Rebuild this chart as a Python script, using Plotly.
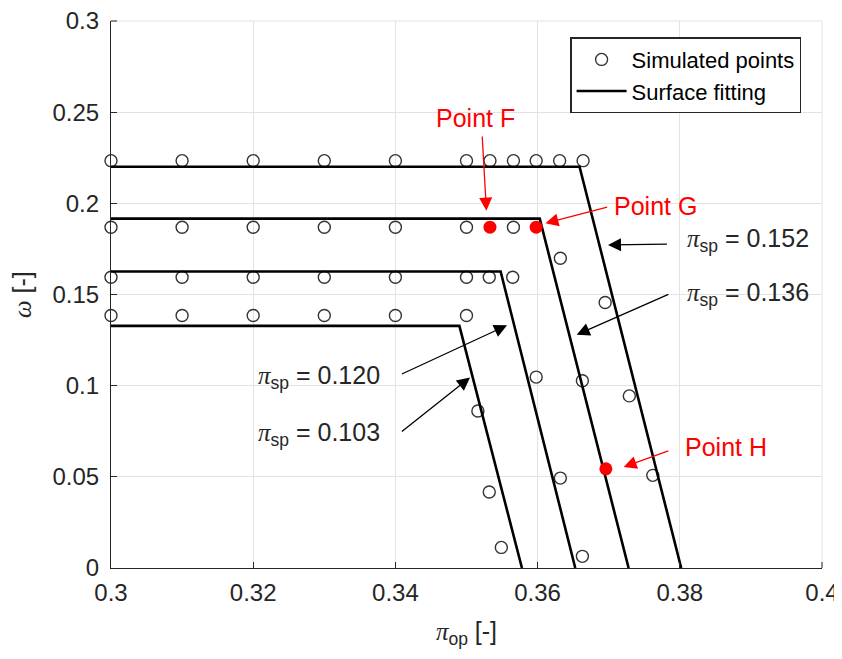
import plotly.graph_objects as go

# ---------------- data ----------------
# simulated points (open circles), per pi_sp level
sim_152_x = [0.30, 0.31, 0.32, 0.33, 0.34, 0.35, 0.3533, 0.3566, 0.3598, 0.3631, 0.3664, 0.3695, 0.3729, 0.3762]
sim_152_y = [0.2234, 0.2234, 0.2234, 0.2234, 0.2234, 0.2234, 0.2234, 0.2234, 0.2234, 0.2234, 0.2234, 0.1456, 0.0944, 0.0508]

sim_136_x = [0.30, 0.31, 0.32, 0.33, 0.34, 0.35, 0.3566, 0.3632, 0.3663, 0.3663]
sim_136_y = [0.1869, 0.1869, 0.1869, 0.1869, 0.1869, 0.1869, 0.1869, 0.1699, 0.1027, 0.0064]

sim_120_x = [0.30, 0.31, 0.32, 0.33, 0.34, 0.35, 0.3532, 0.3565, 0.3598, 0.3632]
sim_120_y = [0.1595, 0.1595, 0.1595, 0.1595, 0.1595, 0.1595, 0.1595, 0.1595, 0.1047, 0.0493]

sim_103_x = [0.30, 0.31, 0.32, 0.33, 0.34, 0.35, 0.3516, 0.3532, 0.3549]
sim_103_y = [0.1385, 0.1385, 0.1385, 0.1385, 0.1385, 0.1385, 0.0861, 0.0417, 0.0113]

# highlighted points F, G, H
special_names = ["Point F", "Point G", "Point H"]
special_x = [0.3533, 0.3598, 0.3696]
special_y = [0.1869, 0.1869, 0.0544]

# surface fitting lines
fit_152_x = [0.30, 0.3659, 0.3802]
fit_152_y = [0.2201, 0.2201, 0.0]
fit_136_x = [0.30, 0.3603, 0.3728]
fit_136_y = [0.1916, 0.1916, 0.0]
fit_120_x = [0.30, 0.3548, 0.3653]
fit_120_y = [0.1626, 0.1626, 0.0]
fit_103_x = [0.30, 0.3490, 0.3578]
fit_103_y = [0.1328, 0.1328, 0.0]

pi_sp_labels = ["0.152", "0.136", "0.120", "0.103"]

x_ticks = [0.30, 0.32, 0.34, 0.36, 0.38, 0.40]
x_tick_text = ["0.3", "0.32", "0.34", "0.36", "0.38", "0.4"]
y_ticks = [0, 0.05, 0.10, 0.15, 0.20, 0.25, 0.30]
y_tick_text = ["0", "0.05", "0.1", "0.15", "0.2", "0.25", "0.3"]

# ---------------- figure ----------------
FONT = "Liberation Sans, Arial, Helvetica, sans-serif"
TXT = "#262626"
GRID = "#e3e3e3"
SERIF = "font-family:'Liberation Serif','DejaVu Serif',serif"

fig = go.Figure()

fits = [(fit_152_x, fit_152_y), (fit_136_x, fit_136_y), (fit_120_x, fit_120_y), (fit_103_x, fit_103_y)]
sims = [(sim_152_x, sim_152_y), (sim_136_x, sim_136_y), (sim_120_x, sim_120_y), (sim_103_x, sim_103_y)]

for i, (sx, sy) in enumerate(sims):
    fig.add_trace(go.Scatter(
        x=sx, y=sy, mode="markers", name="Simulated points",
        legendgroup="sim", showlegend=(i == 0),
        marker=dict(symbol="circle-open", size=12, color="#333333", line=dict(width=1.4, color="#333333")),
        cliponaxis=False,
    ))

for i, (fx, fy) in enumerate(fits):
    fig.add_trace(go.Scatter(
        x=fx, y=fy, mode="lines", name="Surface fitting",
        legendgroup="fit", showlegend=(i == 0),
        line=dict(color="black", width=2.6),
    ))

fig.add_trace(go.Scatter(
    x=special_x, y=special_y, mode="markers", showlegend=False,
    marker=dict(symbol="circle", size=13, color="#ff0000"),
))

# text labels
anns = []
def txt(text, x, y, color, size):
    anns.append(dict(text=text, x=x, y=y, xref="x", yref="y", showarrow=False,
                     font=dict(family=FONT, size=size, color=color), xanchor="center", yanchor="middle"))

def arrow(x0, y0, x1, y1, color):
    anns.append(dict(text="", x=x1, y=y1, ax=x0, ay=y0, xref="x", yref="y", axref="x", ayref="y",
                     showarrow=True, arrowhead=2, arrowsize=2.0, arrowwidth=1.3, arrowcolor=color))

# Point labels (positions in data units)
txt(special_names[0], 0.3513, 0.2468, "#ff0000", 25)
txt(special_names[1], 0.3766, 0.1985, "#ff0000", 25)
txt(special_names[2], 0.3865, 0.0663, "#ff0000", 25)
arrow(0.3522, 0.2375, 0.3528, 0.1960, "#ff0000")
arrow(0.3700, 0.1982, 0.3611, 0.1891, "#ff0000")
arrow(0.3786, 0.0645, 0.3721, 0.0554, "#ff0000")

def pisp(v):
    return f"<span style=\"{SERIF}\"><i>π</i></span><sub>sp</sub> = {v}"

txt(pisp(pi_sp_labels[0]), 0.3896, 0.1800, TXT, 25)
txt(pisp(pi_sp_labels[1]), 0.3896, 0.1505, TXT, 25)
txt(pisp(pi_sp_labels[2]), 0.3293, 0.1050, TXT, 25)
txt(pisp(pi_sp_labels[3]), 0.3293, 0.0735, TXT, 25)
arrow(0.3784, 0.1776, 0.3699, 0.1772, "black")
arrow(0.3786, 0.1504, 0.3655, 0.1279, "black")
arrow(0.3407, 0.1060, 0.3557, 0.1331, "black")
arrow(0.3407, 0.0742, 0.3505, 0.1045, "black")

# y-axis title (rotated), placed left of tick labels
anns.append(dict(text=f"<span style=\"{SERIF}\"><i>ω</i></span> [-]", textangle=-90,
                 xref="paper", yref="paper", x=-0.1248, y=0.4994, xanchor="center", yanchor="middle",
                 showarrow=False, font=dict(family=FONT, size=25, color=TXT)))

# grid lines / inside ticks at the range ends (plotly drops those at the plot edges)
shapes = [
    dict(type="line", xref="paper", yref="paper", x0=0, x1=1, y0=1, y1=1,
         line=dict(color=GRID, width=1), layer="below"),
    dict(type="line", xref="paper", yref="paper", x0=1, x1=1, y0=0, y1=1,
         line=dict(color=GRID, width=1), layer="below"),
    dict(type="line", xref="paper", yref="paper", x0=0, x1=6 / 711, y0=1, y1=1,
         line=dict(color=TXT, width=1)),
    dict(type="line", xref="paper", yref="paper", x0=1, x1=1, y0=0, y1=6 / 547,
         line=dict(color=TXT, width=1)),
]

axis_common = dict(
    showgrid=True, gridcolor=GRID, gridwidth=1,
    showline=True, linecolor=TXT, linewidth=1.2,
    ticks="inside", ticklen=6, tickcolor=TXT, tickwidth=1,
    tickfont=dict(family=FONT, size=24, color=TXT),
    zeroline=False, mirror=False, automargin=False,
    ticklabeloverflow="allow",
)

# page body has an 8px margin: figure 834x651 placed at (8,8)
fig.update_layout(
    width=834, height=651,
    margin=dict(l=103, r=20, t=13, b=91),
    plot_bgcolor="white", paper_bgcolor="white",
    font=dict(family=FONT, color=TXT),
    xaxis=dict(range=[0.3, 0.4], tickvals=x_ticks, ticktext=x_tick_text,
               ticklabelstandoff=3,
               title=dict(text=f"<span style=\"{SERIF}\"><i>π</i></span><sub>op</sub> [-]",
                          font=dict(family=FONT, size=25, color=TXT), standoff=17),
               **axis_common),
    yaxis=dict(range=[0, 0.3], tickvals=y_ticks, ticktext=y_tick_text,
               ticklabelstandoff=6,
               **axis_common),
    legend=dict(x=0.971, y=0.970, xanchor="right", yanchor="top",
                bgcolor="white", bordercolor="#262626", borderwidth=1.2,
                font=dict(family=FONT, size=22, color="black"),
                itemwidth=50, tracegroupgap=0),
    annotations=anns,
    shapes=shapes,
    showlegend=True,
)

fig.write_html("out.html", default_width="834px", default_height="651px")
